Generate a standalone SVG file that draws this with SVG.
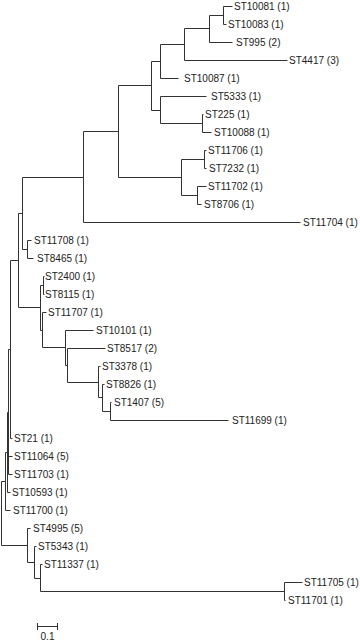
<svg xmlns="http://www.w3.org/2000/svg" width="360" height="643" viewBox="0 0 360 643">
<style>
.br{fill:none;stroke:#333;stroke-width:1}
.lb{font-family:"Liberation Sans",Arial,sans-serif;font-size:10px;fill:#222}
</style>
<rect width="360" height="643" fill="#fff"/>
<g id="connectors" class="br" transform="translate(0.5,0.5)">
<path d="M223,6V24M223,6H232M223,24H226"/>
<path d="M209,15V42M209,15H223M209,42H232"/>
<path d="M184,28V60M184,28H209M184,60H287"/>
<path d="M160,44V78M160,44H184M160,78H178"/>
<path d="M202,114V132M202,114H203M202,132H211"/>
<path d="M160,96V123M160,96H206M160,123H202"/>
<path d="M151,61V110M151,61H160M151,110H160"/>
<path d="M204,150V168M204,150H206M204,168H206"/>
<path d="M197,186V204M197,186H206M197,204H201"/>
<path d="M181,159V195M181,159H204M181,195H197"/>
<path d="M118,85V177M118,85H151M118,177H181"/>
<path d="M83,131V222M83,131H118M83,222H300"/>
<path d="M27,240V258M27,240H31M27,258H33"/>
<path d="M22,177V249M22,177H83M22,249H27"/>
<path d="M43,276V294M43,276H44M43,294H44"/>
<path d="M110,402V420M110,402H111M110,420H228"/>
<path d="M102,384V411M102,384H104M102,411H110"/>
<path d="M98,366V397M98,366H100M98,397H102"/>
<path d="M67,348V382M67,348H105M67,382H98"/>
<path d="M65,330V365M65,330H93M65,365H67"/>
<path d="M42,312V347M42,312H46M42,347H65"/>
<path d="M40,285V330M40,285H43M40,330H42"/>
<path d="M18,213V307M18,213H22M18,307H40"/>
<path d="M10,260V438M10,260H18M10,438H12"/>
<path d="M8,349V474M8,349H10M8,456H12M8,474H12"/>
<path d="M7,412V492M7,412H8M7,492H10"/>
<path d="M5,452V510M5,452H7M5,510H10"/>
<path d="M1,481V545M1,481H5M1,545H27"/>
<path d="M27,528V562M27,528H30M27,562H34"/>
<path d="M34,546V578M34,546H36M34,578H40"/>
<path d="M40,564V591M40,564H42M40,591H284"/>
<path d="M284,582V600M284,582H302M284,600H285"/>
</g>
<g class="lb">
<g id="ST10081"><text x="234" y="9.5">ST10081 (1)</text></g>
<g id="ST10083"><text x="228" y="27.5">ST10083 (1)</text></g>
<g id="ST995"><text x="236" y="45.5">ST995 (2)</text></g>
<g id="ST4417"><text x="289" y="63.5">ST4417 (3)</text></g>
<g id="ST10087"><text x="184" y="81.5">ST10087 (1)</text></g>
<g id="ST5333"><text x="211" y="99.5">ST5333 (1)</text></g>
<g id="ST225"><text x="205" y="117.5">ST225 (1)</text></g>
<g id="ST10088"><text x="214" y="135.5">ST10088 (1)</text></g>
<g id="ST11706"><text x="208" y="153.5">ST11706 (1)</text></g>
<g id="ST7232"><text x="209" y="171.5">ST7232 (1)</text></g>
<g id="ST11702"><text x="208" y="189.5">ST11702 (1)</text></g>
<g id="ST8706"><text x="204" y="207.5">ST8706 (1)</text></g>
<g id="ST11704"><text x="303" y="225.5">ST11704 (1)</text></g>
<g id="ST11708"><text x="34" y="243.5">ST11708 (1)</text></g>
<g id="ST8465"><text x="37" y="261.5">ST8465 (1)</text></g>
<g id="ST2400"><text x="45" y="279.5">ST2400 (1)</text></g>
<g id="ST8115"><text x="45" y="297.5">ST8115 (1)</text></g>
<g id="ST11707"><text x="48" y="315.5">ST11707 (1)</text></g>
<g id="ST10101"><text x="96" y="333.5">ST10101 (1)</text></g>
<g id="ST8517"><text x="107" y="351.5">ST8517 (2)</text></g>
<g id="ST3378"><text x="102" y="369.5">ST3378 (1)</text></g>
<g id="ST8826"><text x="106" y="387.5">ST8826 (1)</text></g>
<g id="ST1407"><text x="114" y="405.5">ST1407 (5)</text></g>
<g id="ST11699"><text x="232" y="423.5">ST11699 (1)</text></g>
<g id="ST21"><text x="14" y="441.5">ST21 (1)</text></g>
<g id="ST11064"><text x="14" y="459.5">ST11064 (5)</text></g>
<g id="ST11703"><text x="14" y="477.5">ST11703 (1)</text></g>
<g id="ST10593"><text x="12" y="495.5">ST10593 (1)</text></g>
<g id="ST11700"><text x="13" y="513.5">ST11700 (1)</text></g>
<g id="ST4995"><text x="33" y="531.5">ST4995 (5)</text></g>
<g id="ST5343"><text x="38" y="549.5">ST5343 (1)</text></g>
<g id="ST11337"><text x="44" y="567.5">ST11337 (1)</text></g>
<g id="ST11705"><text x="304" y="585.5">ST11705 (1)</text></g>
<g id="ST11701"><text x="288" y="603.5">ST11701 (1)</text></g>
</g>
<g id="scalebar">
<path class="br" d="M37.5,626.5H57.5M37.5,623V630M57.5,623V630"/>
<text class="lb" x="47.5" y="640" text-anchor="middle">0.1</text>
</g>
</svg>
